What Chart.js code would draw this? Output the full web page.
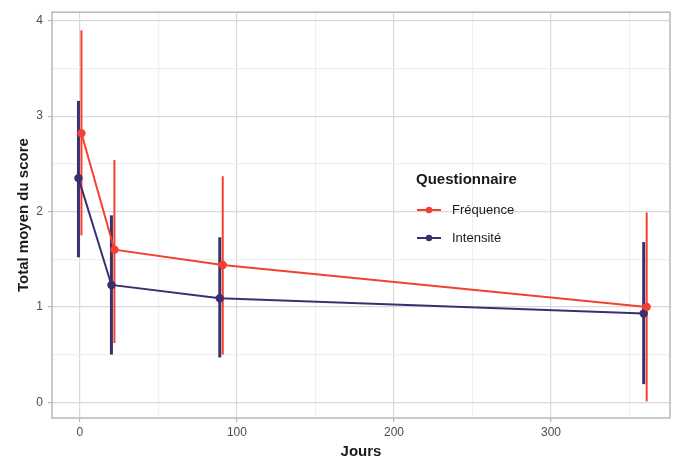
<!DOCTYPE html>
<html>
<head>
<meta charset="utf-8">
<script src="https://cdn.jsdelivr.net/npm/chart.js@4.4.1/dist/chart.umd.min.js"></script>
<style>
  html, body { margin: 0; padding: 0; background: #fff; }
  #wrap { width: 677px; height: 465px; }
</style>
</head>
<body>
<div id="wrap"><canvas id="chart"></canvas></div>
<script>
// jours de suivi
const jours = [0, 21, 90, 360];

// Fréquence : moyenne et barres d'erreur
const frequence = [2.82, 1.60, 1.44, 1.00];
const freqBas = [1.75, 0.62, 0.50, 0.01];
const freqHaut = [3.90, 2.54, 2.37, 1.99];

// Intensité : moyenne et barres d'erreur
const intensite = [2.35, 1.23, 1.09, 0.93];
const intBas = [1.52, 0.50, 0.47, 0.19];
const intHaut = [3.16, 1.96, 1.73, 1.68];

const xTicks = [0, 50, 100, 150, 200, 250, 300, 350];
const xLabels = [0, 100, 200, 300];
const yTicks = [0, 0.5, 1, 1.5, 2, 2.5, 3, 3.5, 4];
const yLabels = [0, 1, 2, 3, 4];

const rouge = '#f5402f';
const bleu = '#3b306e';
const dodge = 0.95;

function pts(vals, shift) {
  return jours.map((j, i) => ({ x: j + shift, y: vals[i] }));
}

const series = [
  { label: 'Fréquence', color: rouge, shift: dodge, mean: frequence, lo: freqBas, hi: freqHaut, w: 2 },
  { label: 'Intensité', color: bleu, shift: -dodge, mean: intensite, lo: intBas, hi: intHaut, w: 3 }
];

const errorBars = {
  id: 'errorBars',
  beforeDatasetsDraw(chart) {
    const { ctx, scales: { x, y } } = chart;
    ctx.save();
    series.forEach(s => {
      ctx.strokeStyle = s.color;
      ctx.lineWidth = s.w;
      jours.forEach((j, i) => {
        const px = x.getPixelForValue(j + s.shift);
        ctx.beginPath();
        ctx.moveTo(px, y.getPixelForValue(s.lo[i]));
        ctx.lineTo(px, y.getPixelForValue(s.hi[i]));
        ctx.stroke();
      });
    });
    ctx.restore();
  }
};

const frame = {
  id: 'frame',
  afterDraw(chart) {
    const { ctx, chartArea: a } = chart;
    ctx.save();
    ctx.strokeStyle = '#b8b8b8';
    ctx.lineWidth = 1.5;
    ctx.strokeRect(a.left, a.top, a.right - a.left, a.bottom - a.top);
    ctx.restore();
  }
};

const legendBox = {
  id: 'legendBox',
  afterDraw(chart) {
    const { ctx } = chart;
    ctx.save();
    ctx.textBaseline = 'middle';
    ctx.fillStyle = '#1a1a1a';
    ctx.font = 'bold 15px "Liberation Sans", Arial, sans-serif';
    ctx.fillText('Questionnaire', 416, 180);
    series.forEach((s, i) => {
      const yy = 210 + i * 28;
      ctx.strokeStyle = s.color;
      ctx.lineWidth = 2;
      ctx.beginPath();
      ctx.moveTo(417, yy);
      ctx.lineTo(441, yy);
      ctx.stroke();
      ctx.fillStyle = s.color;
      ctx.beginPath();
      ctx.arc(429, yy, 3.2, 0, Math.PI * 2);
      ctx.fill();
      ctx.fillStyle = '#1a1a1a';
      ctx.font = '13px "Liberation Sans", Arial, sans-serif';
      ctx.fillText(s.label, 452, yy);
    });
    ctx.restore();
  }
};

const gridColor = (labels) => (c) =>
  labels.includes(c.tick.value) ? '#d9d9d9' : '#efefef';

new Chart(document.getElementById('chart'), {
  type: 'scatter',
  data: {
    datasets: series.map(s => ({
      label: s.label,
      data: pts(s.mean, s.shift),
      showLine: true,
      borderColor: s.color,
      backgroundColor: s.color,
      borderWidth: 2,
      pointRadius: 3.2,
      pointHoverRadius: 3.2
    }))
  },
  options: {
    responsive: true,
    maintainAspectRatio: false,
    animation: false,
    layout: { padding: { left: 0, right: 7, top: 6, bottom: 0 } },
    plugins: {
      legend: { display: false },
      tooltip: { enabled: false }
    },
    scales: {
      x: {
        type: 'linear',
        min: -17.8,
        max: 375.8,
        afterBuildTicks: (sc) => { sc.ticks = xTicks.map(v => ({ value: v })); },
        afterFit: (sc) => { sc.height = 47; },
        ticks: {
          callback: (v) => xLabels.includes(v) ? String(v) : '',
          color: '#4d4d4d',
          font: { family: '"Liberation Sans", Arial, sans-serif', size: 12 },
          padding: 3,
          maxRotation: 0,
          autoSkip: false
        },
        grid: {
          color: gridColor(xLabels),
          lineWidth: 1.2,
          tickLength: 4,
          tickColor: (c) => xLabels.includes(c.tick.value) ? '#b8b8b8' : 'rgba(0,0,0,0)'
        },
        border: { display: false },
        title: {
          display: true,
          text: 'Jours',
          color: '#1a1a1a',
          font: { family: '"Liberation Sans", Arial, sans-serif', size: 15, weight: 'bold' },
          padding: { top: 0, bottom: 4 }
        }
      },
      y: {
        min: -0.165,
        max: 4.09,
        afterBuildTicks: (sc) => { sc.ticks = yTicks.map(v => ({ value: v })); },
        afterFit: (sc) => { sc.width = 52; },
        ticks: {
          callback: (v) => yLabels.includes(v) ? String(v) : '',
          color: '#4d4d4d',
          font: { family: '"Liberation Sans", Arial, sans-serif', size: 12 },
          padding: 5,
          autoSkip: false
        },
        grid: {
          color: gridColor(yLabels),
          lineWidth: 1.2,
          tickLength: 4,
          tickColor: (c) => yLabels.includes(c.tick.value) ? '#b8b8b8' : 'rgba(0,0,0,0)'
        },
        border: { display: false },
        title: {
          display: true,
          text: 'Total moyen du score',
          color: '#1a1a1a',
          font: { family: '"Liberation Sans", Arial, sans-serif', size: 15, weight: 'bold' },
          padding: { top: 15, bottom: 0 }
        }
      }
    }
  },
  plugins: [errorBars, frame, legendBox]
});
</script>
</body>
</html>
